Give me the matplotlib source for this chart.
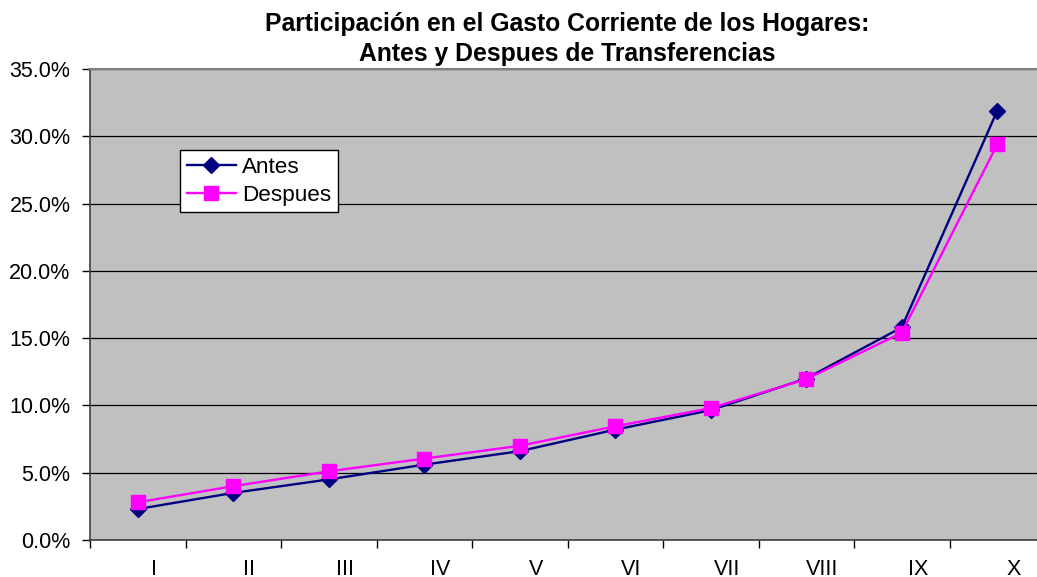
import matplotlib
matplotlib.use("Agg")
import matplotlib.pyplot as plt
import matplotlib.transforms as mtransforms
from matplotlib.ticker import FuncFormatter, MultipleLocator, FixedLocator

categories = ["I", "II", "III", "IV", "V", "VI", "VII", "VIII", "IX", "X"]
antes = [2.3, 3.5, 4.5, 5.6, 6.6, 8.2, 9.65, 12.0, 15.8, 31.9]
despues = [2.8, 4.0, 5.1, 6.05, 7.0, 8.45, 9.8, 11.95, 15.4, 29.4]

plt.rcParams['font.family'] = ['Liberation Sans', 'DejaVu Sans']

W, H = 1037, 577
fig = plt.figure(figsize=(W / 100, H / 100), dpi=100)
left, right, top, bottom = 90, 1045, 69, 540
ax = fig.add_axes([left / W, (H - bottom) / H, (right - left) / W, (bottom - top) / H])
ax.set_facecolor('#C0C0C0')

x = [i + 0.5 for i in range(len(categories))]
ax.plot(x, antes, color='#000080', lw=1.7, marker='D', ms=8, mfc='#000080', mec='#000080',
        label='Antes', zorder=3)
ax.plot(x, despues, color='#FF00FF', lw=1.7, marker='s', ms=10, mfc='#FF00FF', mec='#FF00FF',
        label='Despues', zorder=4)

ax.set_xlim(0, len(categories))
ax.set_ylim(0, 35)
ax.yaxis.set_major_locator(MultipleLocator(5))
ax.yaxis.set_major_formatter(FuncFormatter(lambda v, p: f"{v:.1f}%"))
ax.grid(axis='y', color='black', lw=0.9)
ax.set_axisbelow(True)

ax.xaxis.set_major_locator(FixedLocator(range(len(categories) + 1)))
ax.xaxis.set_major_formatter(FuncFormatter(lambda v, p: ""))
ax.xaxis.set_minor_locator(FixedLocator(x))
ax.set_xticklabels(categories, minor=True)
ax.tick_params(axis='x', which='minor', length=0, pad=14, labelsize=15.5)
ax.tick_params(axis='x', which='major', length=6, width=1, color='black', direction='out')
ax.tick_params(axis='y', length=6, width=1, color='black', pad=8, labelsize=15.5)
offset = mtransforms.ScaledTranslation(16 / 100, 0, fig.dpi_scale_trans)
for lbl in ax.xaxis.get_minorticklabels():
    lbl.set_transform(lbl.get_transform() + offset)

ax.spines['top'].set_color('#808080')
ax.spines['top'].set_linewidth(1.5)
ax.spines['right'].set_color('#808080')
ax.spines['left'].set_color('#404040')
ax.spines['left'].set_linewidth(1.2)
ax.spines['bottom'].set_color('#404040')
ax.spines['bottom'].set_linewidth(1.2)

ax.set_title("Participación en el Gasto Corriente de los Hogares:\nAntes y Despues de Transferencias",
             fontsize=17.8, fontweight='bold', pad=6, linespacing=1.3)

leg = ax.legend(loc='upper left', bbox_to_anchor=(0.094, 0.828), borderaxespad=0,
                fontsize=16.2, frameon=True, fancybox=False, edgecolor='black',
                framealpha=1, handlelength=2.2, handletextpad=0.25, borderpad=0.3,
                labelspacing=0.3)
leg.get_frame().set_linewidth(1.0)

fig.savefig("out.png", dpi=100)
